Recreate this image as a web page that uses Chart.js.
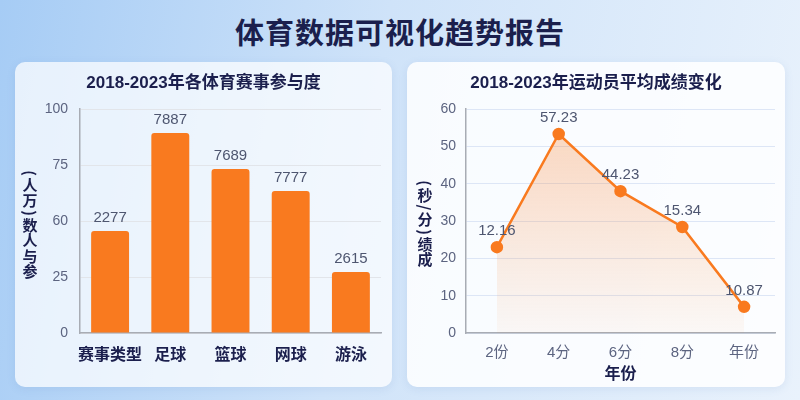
<!DOCTYPE html>
<html>
<head>
<meta charset="utf-8">
<script src="https://cdn.jsdelivr.net/npm/chart.js@4.4.0/dist/chart.umd.min.js"></script>
<style>
  html, body { margin: 0; padding: 0; }
  body {
    width: 800px; height: 400px; overflow: hidden; position: relative;
    background: linear-gradient(100deg, #a6ccf5 0%, #cfe3f9 45%, #e9f2fc 100%);
    font-family: "Noto Sans CJK SC", "Noto Sans", sans-serif;
  }
  h1 {
    position: absolute; left: 0; top: 10px; width: 800px; margin: 0;
    text-align: center; font-size: 29px; font-weight: 700; color: #1b1f4d;
    letter-spacing: 1px;
  }
  .card {
    position: absolute; top: 62px; height: 325px;
    background: rgba(255,255,255,0.72); border-radius: 10px;
    box-shadow: 0 2px 8px rgba(80,120,180,0.12);
  }
  #card1 { left: 15px; width: 377px; }
  #card2 { left: 407px; width: 378px; background: rgba(255,255,255,0.85); }
  canvas { position: absolute; left: 0; top: 0; }
</style>
</head>
<body>
<h1>体育数据可视化趋势报告</h1>
<div class="card" id="card1"><canvas id="barChart" width="377" height="325"></canvas></div>
<div class="card" id="card2"><canvas id="lineChart" width="378" height="325"></canvas></div>
<script>
// Left chart data
var barTitle = '2018-2023年各体育赛事参与度';
var sports = ['赛事类型', '足球', '篮球', '网球', '游泳'];
var participation = [45.5, 89.3, 73.2, 63.4, 27.2];
var participationLabels = ['2277', '7887', '7689', '7777', '2615'];
var barTickValues = [0, 25, 50, 75, 100];
var barTickLabels = ['0', '25', '60', '75', '100'];
// y titles as they appear, read top to bottom
var barYTitle = '(人万)数人与参';

// Right chart data
var lineTitle = '2018-2023年运动员平均成绩变化';
var periods = ['2份', '4分', '6分', '8分', '年份'];
var scores = [23.0, 53.3, 38.0, 28.4, 7.0];
var scoreLabels = ['12.16', '57.23', '44.23', '15.34', '10.87'];
var lineYTitle = '(秒/分)绩成';
var lineXTitle = '年份';

var navy = '#1b1f4d';
var tickGray = '#5c6480';
var orange = '#f97a1f';
var FONT = '"Liberation Sans", "Noto Sans CJK SC", sans-serif';
var CJK = '"Noto Sans CJK SC", "Noto Sans", sans-serif';

// draws the card title and the stacked vertical y title
function decorPlugin(title, yTitle, yx, yCenter) {
  return {
    id: 'decor',
    afterDraw: function(chart) {
      var ctx = chart.ctx;
      ctx.save();
      ctx.fillStyle = navy;
      ctx.font = 'bold 17px ' + FONT;
      ctx.textAlign = 'center';
      ctx.textBaseline = 'middle';
      ctx.fillText(title, chart.width / 2, 21);
      // y title: upright characters stacked top to bottom
      ctx.font = 'bold 15px ' + CJK;
      var chars = Array.from(yTitle);
      var steps = chars.map(function(ch) { return '()/'.indexOf(ch) >= 0 ? 9 : 15.5; });
      var total = steps.reduce(function(a, b) { return a + b; }, 0);
      var y = yCenter - total / 2;
      chars.forEach(function(ch, i) {
        ctx.save();
        ctx.translate(yx, y + steps[i] / 2);
        if (steps[i] < 10) ctx.rotate(Math.PI / 2);
        ctx.fillText(ch, 0, 0);
        ctx.restore();
        y += steps[i];
      });
      ctx.restore();
    }
  };
}

// value labels above bars / points
function labelPlugin(labels, offset) {
  return {
    id: 'vlabels',
    afterDatasetsDraw: function(chart) {
      var ctx = chart.ctx;
      var meta = chart.getDatasetMeta(0);
      ctx.save();
      ctx.fillStyle = '#4e5670';
      ctx.font = '15px ' + FONT;
      ctx.textAlign = 'center';
      ctx.textBaseline = 'bottom';
      meta.data.forEach(function(el, i) {
        ctx.fillText(labels[i], el.x, el.y - offset);
      });
      ctx.restore();
    }
  };
}

new Chart(document.getElementById('barChart'), {
  type: 'bar',
  data: {
    labels: sports,
    datasets: [{
      data: participation,
      backgroundColor: orange,
      borderRadius: { topLeft: 3, topRight: 3 },
      borderSkipped: 'bottom',
      barPercentage: 0.63,
      categoryPercentage: 1
    }]
  },
  options: {
    responsive: false,
    animation: false,
    layout: { padding: { top: 47, right: 11, left: 0, bottom: 0 } },
    plugins: { legend: { display: false }, tooltip: { enabled: false } },
    scales: {
      x: {
        grid: { display: false },
        border: { color: '#a8acb4', width: 1.5 },
        ticks: { color: navy, font: { family: CJK, size: 16, weight: 'bold' }, padding: 3,
                 maxRotation: 0, minRotation: 0, autoSkip: false },
        afterFit: function(s) { s.height = 54; }
      },
      y: {
        min: 0, max: 100,
        afterBuildTicks: function(s) { s.ticks = barTickValues.map(function(v) { return { value: v }; }); },
        grid: { color: '#e2e5ea', drawTicks: false },
        border: { color: '#a8acb4', width: 1.5 },
        ticks: {
          color: tickGray, font: { family: FONT, size: 14 }, padding: 12,
          callback: function(v) { return barTickLabels[barTickValues.indexOf(v)]; }
        },
        afterFit: function(s) { s.width = 65; }
      }
    }
  },
  plugins: [decorPlugin(barTitle, barYTitle, 15, 162), labelPlugin(participationLabels, 6)]
});

new Chart(document.getElementById('lineChart'), {
  type: 'line',
  data: {
    labels: periods,
    datasets: [{
      data: scores,
      borderColor: orange,
      borderWidth: 2.5,
      pointBackgroundColor: orange,
      pointBorderColor: orange,
      pointRadius: 5,
      tension: 0,
      fill: 'origin',
      backgroundColor: function(c) {
        var area = c.chart.chartArea;
        if (!area) return 'rgba(249,122,31,0.2)';
        var g = c.chart.ctx.createLinearGradient(0, area.top, 0, area.bottom);
        g.addColorStop(0, 'rgba(249,122,31,0.30)');
        g.addColorStop(1, 'rgba(249,122,31,0.04)');
        return g;
      }
    }]
  },
  options: {
    responsive: false,
    animation: false,
    layout: { padding: { top: 47, right: 10, left: 0, bottom: 0 } },
    plugins: { legend: { display: false }, tooltip: { enabled: false } },
    scales: {
      x: {
        offset: true,
        grid: { display: false },
        border: { color: '#a8acb4', width: 1.5 },
        ticks: { color: tickGray, font: { family: FONT, size: 15 }, padding: 3,
                 maxRotation: 0, minRotation: 0, autoSkip: false },
        title: { display: true, text: lineXTitle, color: navy, font: { family: CJK, size: 16, weight: 'bold' }, padding: { top: 0, bottom: 4 } },
        afterFit: function(s) { s.height = 54; }
      },
      y: {
        min: 0, max: 60,
        ticks: { stepSize: 10, color: tickGray, font: { family: FONT, size: 14 }, padding: 10 },
        grid: { color: '#dde6f6', drawTicks: false },
        border: { color: '#a8acb4', width: 1.5 },
        afterFit: function(s) { s.width = 59; }
      }
    }
  },
  plugins: [decorPlugin(lineTitle, lineYTitle, 18, 161), labelPlugin(scoreLabels, 9)]
});
</script>
</body>
</html>
